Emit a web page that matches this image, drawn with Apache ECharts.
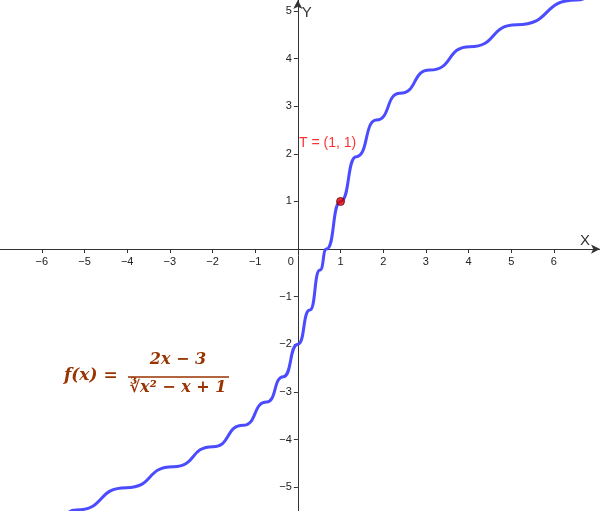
<!DOCTYPE html>
<html><head><meta charset="utf-8">
<script src="https://cdn.jsdelivr.net/npm/echarts@6/dist/echarts.min.js"></script>
<style>html,body{margin:0;padding:0;background:#fff}#c{width:600px;height:511px}</style>
</head><body><div id="c"></div>
<script>
const curveX = [-5.4,-5.2,-4.02,-2.92,-1.99,-1.28,-0.73,-0.34,0.0,0.28,0.52,0.67,1.0,1.37,1.84,2.39,3.09,4.03,5.13,6.53,6.8];
const curveY = [-5.55,-5.48,-5.01,-4.57,-4.15,-3.70,-3.21,-2.68,-2.0,-1.28,-0.44,0.0,1.0,1.94,2.71,3.27,3.76,4.25,4.71,5.23,5.31];
const pointT = [1, 1];
const xTicks = [-6,-5,-4,-3,-2,-1,1,2,3,4,5,6];
const yTicks = [-5,-4,-3,-2,-1,1,2,3,4,5];
const fmt = v => (v < 0 ? '\u2212' + (-v) : String(v));
const chart = echarts.init(document.getElementById('c'));
const axisCol = '#333';
chart.setOption({
  animation: false,
  grid: {left: 0, right: 0, top: 0, bottom: 0, containLabel: false, outerBoundsMode: 'none'},
  xAxis: {type: 'value', min: -6.98, max: 7.08,
    axisLine: {onZero: true, lineStyle: {color: axisCol, width: 1}, symbol: ['none','arrow'], symbolSize: [7, 9]},
    axisTick: {show: true, customValues: xTicks, length: 4, lineStyle: {color: axisCol}},
    axisLabel: {show: false}, splitLine: {show: false}},
  yAxis: {type: 'value', min: -5.5, max: 5.23,
    axisLine: {onZero: true, lineStyle: {color: axisCol, width: 1}, symbol: ['none','arrow'], symbolSize: [7, 9]},
    axisTick: {show: true, customValues: yTicks, length: 4, lineStyle: {color: axisCol}},
    axisLabel: {show: false}, splitLine: {show: false}},
  series: [
    {type: 'line', data: curveX.map((x, i) => [x, curveY[i]]), smooth: 0.6, smoothMonotone: 'x', showSymbol: false,
     lineStyle: {color: '#4b4bff', width: 3}, z: 3},
    {type: 'scatter', data: [pointT], symbolSize: 8, z: 5,
     itemStyle: {color: '#e00000', borderColor: '#600', borderWidth: 1},
     label: {show: true, formatter: 'T = (1, 1)', color: '#ff0000', fontSize: 14, fontFamily: 'Liberation Sans',
       position: [-37, -54], align: 'left', verticalAlign: 'middle'}}
  ]
});
const o = chart.convertToPixel({gridIndex: 0}, [0, 0]);
const fc = '#993300';
const ff = 'DejaVu Serif';
const g = [];
xTicks.forEach(v => { const p = chart.convertToPixel({gridIndex: 0}, [v, 0]);
  g.push({type: 'text', x: p[0], y: p[1] + 7, style: {text: fmt(v), fill: '#222', font: '11px Liberation Sans', align: 'center'}}); });
yTicks.forEach(v => { const p = chart.convertToPixel({gridIndex: 0}, [0, v]);
  g.push({type: 'text', x: p[0] - 6, y: p[1], style: {text: fmt(v), fill: '#222', font: '11px Liberation Sans', align: 'right', verticalAlign: 'middle'}}); });
g.push(
  {type: 'text', x: o[0] - 4, y: o[1] + 7, style: {text: '0', fill: '#222', font: '11px Liberation Sans', align: 'right'}},
  {type: 'text', x: 580, y: o[1] - 16, style: {text: 'X', fill: '#333', font: '15px Liberation Sans'}},
  {type: 'text', x: o[0] + 4, y: 5, style: {text: 'Y', fill: '#333', font: '15px Liberation Sans'}},
  {type: 'text', x: 64, y: 367, style: {text: 'f(x) =', fill: fc, font: 'italic bold 17px ' + ff}},
  {type: 'text', x: 178, y: 352, style: {text: '2x \u2212 3', fill: fc, font: 'italic bold 16px ' + ff, align: 'center'}},
  {type: 'line', shape: {x1: 128, y1: 377, x2: 229, y2: 377}, style: {stroke: fc, lineWidth: 1.5}},
  {type: 'text', x: 178, y: 380, style: {text: '\u221Bx\u00B2 \u2212 x + 1', fill: fc, font: 'italic bold 16px ' + ff, align: 'center'}}
);
chart.setOption({graphic: g});
</script></body></html>
